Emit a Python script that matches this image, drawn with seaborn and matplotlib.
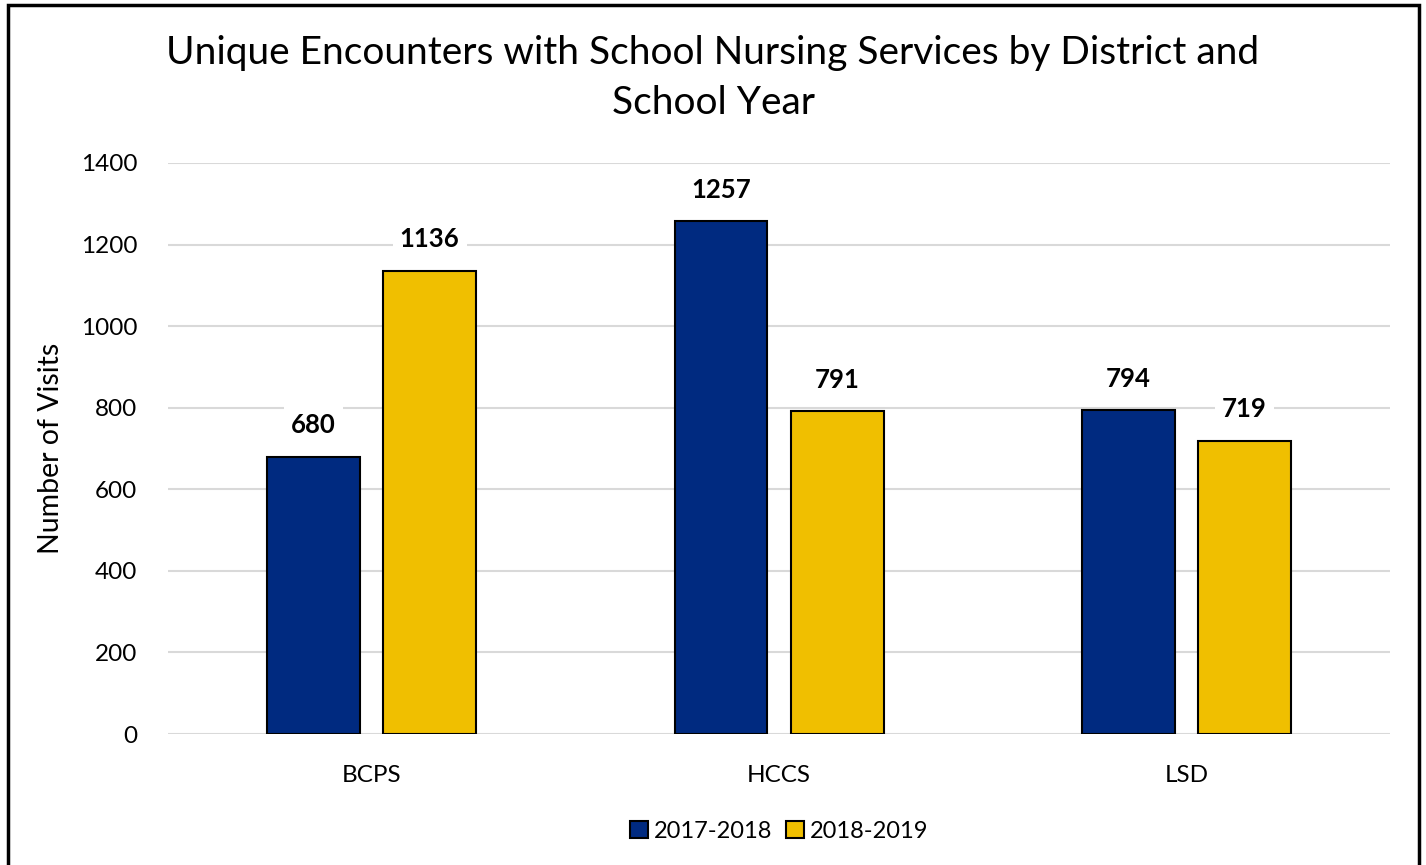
import matplotlib
matplotlib.use("Agg")
import matplotlib.pyplot as plt
import seaborn as sns
import pandas as pd
from matplotlib.patches import Rectangle

districts = ["BCPS", "HCCS", "LSD"]
years = ["2017-2018", "2018-2019"]
visits_2017_2018 = [680, 1257, 794]
visits_2018_2019 = [1136, 791, 719]
y_ticks = [0, 200, 400, 600, 800, 1000, 1200, 1400]

df = pd.DataFrame({
    "District": districts * 2,
    "Year": [years[0]] * 3 + [years[1]] * 3,
    "Visits": visits_2017_2018 + visits_2018_2019,
})

sns.set_theme(style="white")
plt.rcParams["font.family"] = ["Lato", "DejaVu Sans"]
plt.rcParams["text.color"] = "black"
plt.rcParams["axes.labelcolor"] = "black"

palette = {years[0]: "#002A80", years[1]: "#F0BF00"}

fig = plt.figure(figsize=(14.26, 8.65), dpi=100)
ax = fig.add_axes([0.1178, 0.1514, 0.8570, 0.6602])

sns.barplot(data=df, x="District", y="Visits", hue="Year", order=districts,
            hue_order=years, palette=palette, width=0.57, gap=0.2,
            edgecolor="black", linewidth=1.5, saturation=1, ax=ax, zorder=3)

ax.set_ylim(0, 1400)
ax.set_xlim(-0.5, 2.5)
ax.set_yticks(y_ticks)
ax.yaxis.grid(True, color="#D9D9D9", linewidth=1.5, zorder=0)
ax.set_axisbelow(True)
for s in ax.spines.values():
    s.set_visible(False)
ax.tick_params(axis="both", length=0, labelsize=17.5, colors="black")
ax.tick_params(axis="y", pad=22)
ax.tick_params(axis="x", pad=22)
ax.set_xlabel("")
ax.set_ylabel("Number of Visits", fontsize=20.5, labelpad=12, color="black")

for container in ax.containers:
    ax.bar_label(container, fmt="%d", padding=14, fontsize=18.5, fontweight="bold",
                 color="black",
                 bbox=dict(facecolor="white", edgecolor="none", pad=5), zorder=4)

ax.legend(loc="upper center", bbox_to_anchor=(0.5, -0.115), ncol=2, frameon=False,
          fontsize=17, handlelength=0.75, handleheight=0.75, handletextpad=0.25,
          columnspacing=0.6)
for h in ax.get_legend().legend_handles:
    h.set_edgecolor("black")
    h.set_linewidth(1.5)

fig.text(0.5, 0.91, "Unique Encounters with School Nursing Services by District and\nSchool Year",
         ha="center", va="center", fontsize=28, linespacing=1.5, color="black")

fig.patches.append(Rectangle((0.0056, -0.01), 0.9895, 1.004, transform=fig.transFigure,
                             fill=False, edgecolor="black", linewidth=2.5, zorder=10))

fig.savefig("out.png", dpi=100)
